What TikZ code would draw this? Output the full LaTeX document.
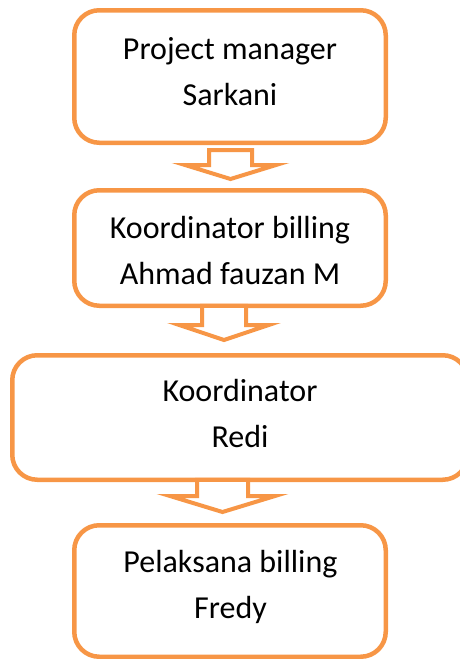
\documentclass[tikz,border=0pt]{standalone}
\usepackage{fontspec}
\setmainfont{Carlito}
\usepackage{tikz}
\usetikzlibrary{calc}
\definecolor{myorange}{HTML}{F79646}

\tikzset{
  orgbox/.style={draw=myorange, line width=4.5pt, rounded corners=25pt,
    minimum width=311.5pt, inner sep=0pt},
  orgtext/.style={font=\fontsize{32}{46}\selectfont, align=center, anchor=base},
  blockarrow/.style={draw=myorange, fill=white, line width=4pt, line join=miter},
}

\begin{document}
\begin{tikzpicture}[x=1pt, y=-1pt]
        \useasboundingbox (0,0) rectangle (460,659);

        % boxes
        \node[orgbox, minimum height=132.5pt] (pm) at (230,76.5) {};
        \node[orgbox, minimum height=115.5pt] (kb) at (230,248) {};
        \node[orgbox, minimum height=124.5pt, minimum width=455.5pt] (kr) at (240,417.5) {};
        \node[orgbox, minimum height=131.5pt] (pb) at (230,591) {};

        % base = last line
        \node[orgtext] (pmt) at (230,105) {Project manager\\Sarkani};
        \node[orgtext] (kbt) at (230,284) {Koordinator billing\\Ahmad fauzan M};
        \node[orgtext] (krt) at (240,447) {Koordinator\\Redi};
        \node[orgtext] (pbt) at (230.5,618) {Pelaksana billing\\Fredy};

        % arrows
        \coordinate (a1) at ($(pm.south -| 230.5,0)+(0,5)$);
        \coordinate (t1) at ($(kb.north -| 230.5,0)+(0,-9)$);
        \draw[blockarrow] (a1) ++(-21.5,0) -- ++(0,15) -- ++(-24,0) -- (t1)
          -- ++(45.5,-14) -- ++(-24,0) -- ++(0,-15) -- cycle;

        \coordinate (a2) at ($(kb.south -| 224,0)+(0,-2.25)$);
        \coordinate (t2) at ($(kr.north -| 224,0)+(0,-13)$);
        \draw[blockarrow] (a2) ++(-22,0) -- ++(0,19.25) -- ++(-22.7,0) -- (t2)
          -- ++(44.7,-15) -- ++(-22.7,0) -- ++(0,-19.25) -- cycle;

        \coordinate (a3) at ($(kr.south -| 222.5,0)+(0,-2.25)$);
        \coordinate (t3) at ($(pb.north -| 222.5,0)+(0,-11)$);
        \draw[blockarrow] (a3) ++(-25.5,0) -- ++(0,16.25) -- ++(-27,0) -- (t3)
          -- ++(52.5,-16) -- ++(-27,0) -- ++(0,-16.25) -- cycle;
      \end{tikzpicture}
\end{document}
